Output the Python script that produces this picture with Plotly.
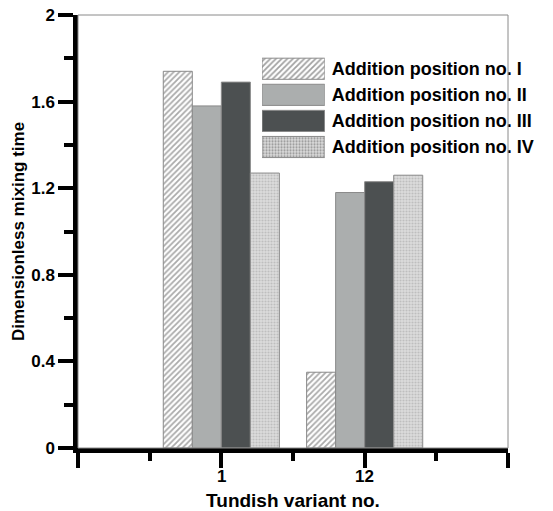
import plotly.graph_objects as go

categories = ["1", "12"]
series_names = ["Addition position no. I", "Addition position no. II",
                "Addition position no. III", "Addition position no. IV"]
values_I = [1.74, 0.35]
values_II = [1.58, 1.18]
values_III = [1.69, 1.23]
values_IV = [1.27, 1.26]
y_ticks = [0, 0.4, 0.8, 1.2, 1.6, 2]
y_ticklabels = ["0", "0.4", "0.8", "1.2", "1.6", "2"]

series_values = [values_I, values_II, values_III, values_IV]
colors = ["#ffffff", "#abaeae", "#4c5051", "#dcdcdc"]
pat_shapes = ["/", "", "", "."]
pat_fg = ["#555555", "#000000", "#000000", "#a0a0a0"]
pat_size = [4, 8, 8, 3]
pat_sol = [0.45, 0.3, 0.3, 0.4]

xpos = [i + 1 for i in range(len(categories))]
font = "Liberation Sans, Arial, sans-serif"

fig = go.Figure()
for name, vals, c, ps, pf, psz, pso in zip(series_names, series_values, colors,
                                           pat_shapes, pat_fg, pat_size, pat_sol):
    fig.add_trace(go.Bar(
        x=xpos, y=vals, name=name, showlegend=False,
        marker=dict(color=c, line=dict(color="#8a8a8a", width=1),
                    pattern=dict(shape=ps, fgcolor=pf, bgcolor=c, size=psz, solidity=pso)),
    ))

# legend drawn as a small bar subplot
fig.add_trace(go.Bar(
    x=[1] * len(series_names), y=series_names, orientation="h",
    xaxis="x2", yaxis="y2", showlegend=False, hoverinfo="skip",
    marker=dict(color=colors, line=dict(color="#8a8a8a", width=1),
                pattern=dict(shape=pat_shapes, fgcolor=pat_fg, bgcolor=colors,
                             size=pat_size, solidity=pat_sol)),
))

# category tick labels placed on the x scale
for xp, cat in zip(xpos, categories):
    fig.add_annotation(x=xp, xref="x", y=0, yref="paper", yanchor="top", yshift=-17,
                       text=cat, showarrow=False,
                       font=dict(size=17, weight="bold", color="black", family=font))

fig.update_layout(
    width=545, height=503,
    margin=dict(l=70, r=45, t=7, b=63, autoexpand=False),
    paper_bgcolor="white", plot_bgcolor="white",
    barmode="group", bargap=0.19, bargroupgap=0,
    font=dict(family=font, color="black", size=17, weight="bold"),
    xaxis=dict(
        domain=[0, 1], range=[0, 3], automargin=False,
        tickvals=[0] + xpos + [3], showticklabels=False,
        ticks="outside", ticklen=15, tickwidth=3.5, tickcolor="black",
        minor=dict(dtick=0.5, tick0=0, ticks="outside", ticklen=8, tickwidth=3.5, tickcolor="black"),
        showline=True, linewidth=4.5, linecolor="black",
        showgrid=False, zeroline=False,
        title=dict(text="Tundish variant no.", font=dict(size=19, weight="bold"), standoff=31),
    ),
    yaxis=dict(
        domain=[0, 1], range=[0, 2], automargin=False,
        tickvals=y_ticks, ticktext=y_ticklabels,
        ticks="outside", ticklen=15, tickwidth=3.5, tickcolor="black",
        minor=dict(dtick=0.2, tick0=0, ticks="outside", ticklen=9, tickwidth=3.5, tickcolor="black"),
        showline=True, linewidth=4.5, linecolor="black",
        showgrid=False, zeroline=False, ticklabeloverflow="allow",
        tickfont=dict(size=17, weight="bold"),
        title=dict(text="Dimensionless mixing time", font=dict(size=17, weight="bold"), standoff=4),
    ),
    xaxis2=dict(domain=[0.428, 0.574], range=[0, 1], anchor="y2", visible=False,
                fixedrange=True, automargin=False),
    yaxis2=dict(domain=[0.665, 0.906], anchor="x2", side="right", autorange="reversed",
                showline=False, showgrid=False, zeroline=False, ticks="", automargin=False,
                ticklabelstandoff=6, tickfont=dict(size=18, weight="bold")),
    shapes=[dict(type="rect", xref="paper", yref="paper", x0=0, x1=1, y0=0, y1=1,
                 line=dict(color="#8a8a8a", width=1), layer="above")],
)
fig.write_html("out.html")
